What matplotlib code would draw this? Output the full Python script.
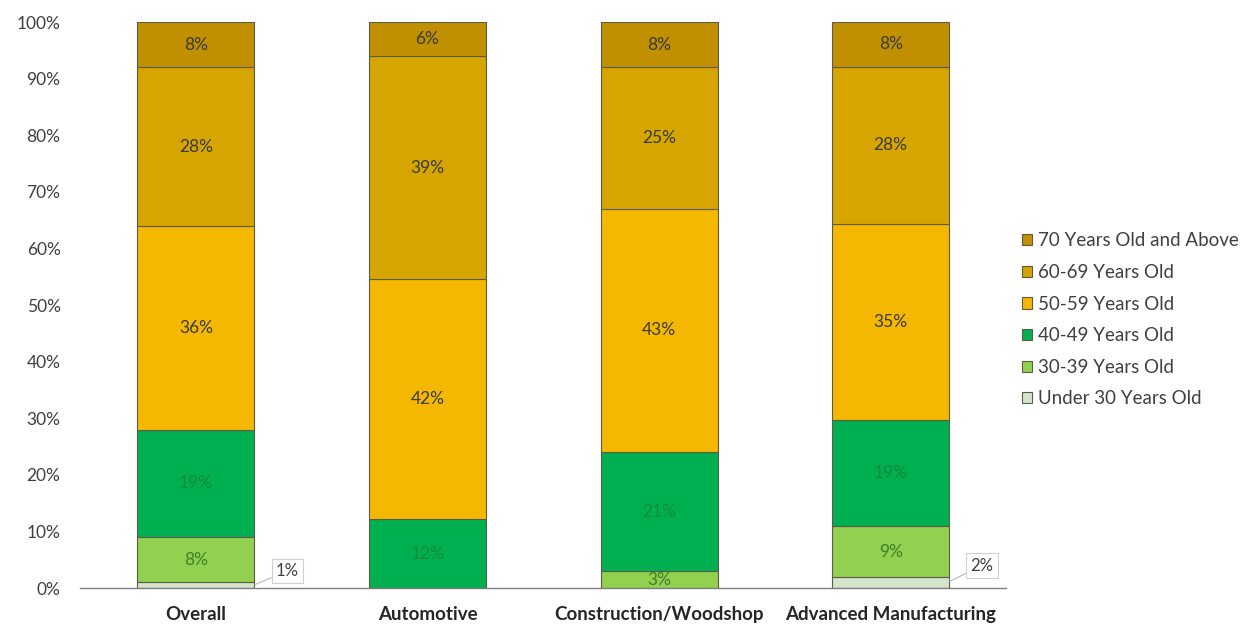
import matplotlib
matplotlib.use("Agg")
import matplotlib.pyplot as plt
import numpy as np

plt.rcParams['font.family'] = ['Lato', 'DejaVu Sans']

categories = ["Overall", "Automotive", "Construction/Woodshop", "Advanced Manufacturing"]
age_groups = ["Under 30 Years Old", "30-39 Years Old", "40-49 Years Old",
              "50-59 Years Old", "60-69 Years Old", "70 Years Old and Above"]

under_30 = [1, 0, 0, 2]
age_30_39 = [8, 0, 3, 9]
age_40_49 = [19, 12, 21, 19]
age_50_59 = [36, 42, 43, 35]
age_60_69 = [28, 39, 25, 28]
age_70_plus = [8, 6, 8, 8]

series = [under_30, age_30_39, age_40_49, age_50_59, age_60_69, age_70_plus]
colors = ["#D3E6CC", "#92D050", "#00B050", "#F5B800", "#D6A500", "#C09000"]
label_colors = [None, "#3F7F2A", "#138A3E", "#3A3A3A", "#3A3A3A", "#3A3A3A"]
y_ticks = [0, 10, 20, 30, 40, 50, 60, 70, 80, 90, 100]

fig = plt.figure(figsize=(12.52, 6.31), dpi=100)
ax = fig.add_axes([0.0639, 0.0681, 0.740, 0.8970])

x = np.arange(len(categories))
data = np.array(series, dtype=float)
shares = data / data.sum(axis=0) * 100  # 100% stacked
bottom = np.zeros(len(categories))
for i, name in enumerate(age_groups):
    ax.bar(x, shares[i], 0.505, bottom=bottom, color=colors[i],
           edgecolor="#5E5A4A", linewidth=0.8, label=name, zorder=2)
    for j in range(len(categories)):
        v = data[i, j]
        if v <= 0:
            continue
        if i == 0:
            # small segment: callout label outside the bar
            top = bottom[j] + shares[i, j]
            ax.annotate(f"{int(v)}%", xy=(x[j] + 0.255, top * 0.6),
                        xytext=(x[j] + 0.395, top + 2.0), ha="center", va="center",
                        fontsize=12, color="#404040",
                        bbox=dict(boxstyle="square,pad=0.25", fc="white",
                                  ec="#D0D0D0", lw=0.8),
                        arrowprops=dict(arrowstyle="-", color="#B8B8B8", lw=0.8,
                                        shrinkA=0, shrinkB=0),
                        zorder=4)
        else:
            yc = bottom[j] + shares[i, j] / 2
            ax.text(x[j], yc, f"{int(v)}%", ha="center", va="center",
                    fontsize=12.5, color=label_colors[i], zorder=3)
    bottom += shares[i]

ax.set_xlim(-0.5, len(categories) - 0.5)
ax.set_ylim(0, 100)
ax.set_yticks(y_ticks)
ax.set_yticklabels([f"{t}%" for t in y_ticks], fontsize=12.5, color="#404040")
ax.set_xticks(x)
ax.set_xticklabels(categories, fontsize=13.5, fontweight="bold", color="#262626")
ax.tick_params(axis="both", length=0)
ax.tick_params(axis="y", pad=14)
ax.tick_params(axis="x", pad=13)
for s in ["top", "right", "left"]:
    ax.spines[s].set_visible(False)
ax.spines["bottom"].set_color("#7F7F7F")
ax.spines["bottom"].set_linewidth(1.0)

handles, labels = ax.get_legend_handles_labels()
fig.legend(handles[::-1], labels[::-1], loc="center left",
           bbox_to_anchor=(0.807, 0.493), frameon=False, fontsize=13.5,
           handlelength=0.55, handleheight=0.55, handletextpad=0.3,
           labelspacing=0.78, labelcolor="#404040", borderaxespad=0.2)

fig.savefig("out.png", dpi=100, facecolor="white")
